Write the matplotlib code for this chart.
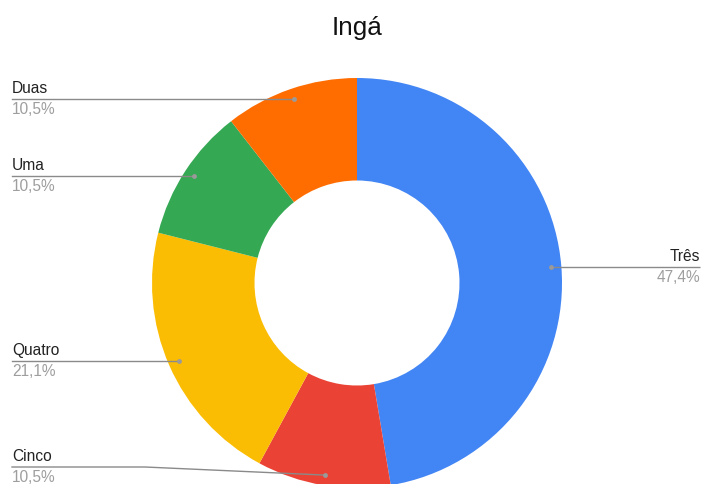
import matplotlib
matplotlib.use("Agg")
import matplotlib.pyplot as plt
import numpy as np

title = "Ingá"
categories = ["Três", "Cinco", "Quatro", "Uma", "Duas"]
values = [9, 2, 4, 2, 2]
pct_labels = ["47,4%", "10,5%", "21,1%", "10,5%", "10,5%"]
colors = ["#4285F4", "#EA4335", "#FBBC04", "#34A853", "#FF6D01"]

W, H = 702, 484
fig = plt.figure(figsize=(W / 100, H / 100), dpi=100)
ax = fig.add_axes([0, 0, 1, 1])
ax.set_xlim(0, W)
ax.set_ylim(0, H)
ax.set_aspect("equal")
ax.axis("off")

def Y(p):
    return H - p

cx, cy, R = 357, Y(283), 205
wedges, _ = ax.pie(values, colors=colors, startangle=90, counterclock=False,
                   radius=R, center=(cx, cy), wedgeprops=dict(width=R * 0.5, linewidth=0))
ax.set_xlim(0, W)
ax.set_ylim(0, H)

fig.text(0.508, 1 - 28 / H, title, ha="center", va="center", fontsize=18.8,
         family="Liberation Sans", color="#111111")

line_col = "#8a8a8a"
name_col = "#222222"
pct_col = "#9e9e9e"
fs = 11.2

label_y = {"Três": 266, "Cinco": 467, "Quatro": 361, "Uma": 176, "Duas": 98}
for w, name, pct in zip(wedges, categories, pct_labels):
    ang = np.deg2rad((w.theta1 + w.theta2) / 2)
    r = R * 0.95
    dx, dy = cx + r * np.cos(ang), cy + r * np.sin(ang)
    ly = Y(label_y[name])
    if np.cos(ang) > 0:
        xe = 700
        ax.plot([dx, xe], [dy, dy], color=line_col, lw=1, solid_capstyle="butt")
        ly = dy
        ax.text(xe, ly + 3, name, ha="right", va="bottom", fontsize=fs,
                family="Liberation Sans", color=name_col)
        ax.text(xe, ly - 3, pct, ha="right", va="top", fontsize=fs,
                family="Liberation Sans", color=pct_col)
    else:
        xs = 12
        if abs(ly - dy) > 3:
            ax.plot([xs, 145, dx], [ly, ly, dy], color=line_col, lw=1)
        else:
            ax.plot([xs, dx], [dy, dy], color=line_col, lw=1)
            ly = dy
        ax.text(xs, ly + 3, name, ha="left", va="bottom", fontsize=fs,
                family="Liberation Sans", color=name_col)
        ax.text(xs, ly - 3, pct, ha="left", va="top", fontsize=fs,
                family="Liberation Sans", color=pct_col)
    ax.plot([dx], [dy], "o", color="#9a9a9a", ms=3.5, mec="none")

fig.savefig("out.png", dpi=100, facecolor="white")
